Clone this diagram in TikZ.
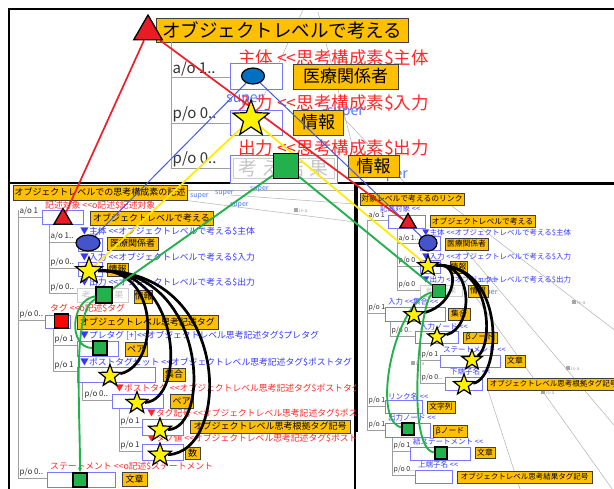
\documentclass[tikz,border=0pt]{standalone}
\usepackage{fontspec}
\setmainfont{Noto Sans CJK JP}
\usetikzlibrary{shapes.geometric,arrows.meta}
\pgfdeclarelayer{back}\pgfdeclarelayer{mid}\pgfsetlayers{back,mid,main}
\definecolor{org}{RGB}{255,192,0}
\definecolor{txtred}{RGB}{255,40,40}
\definecolor{txtblue}{RGB}{55,55,255}
\definecolor{suplbl}{RGB}{80,120,255}
\definecolor{bbord}{RGB}{120,120,255}
\definecolor{ellA}{RGB}{0,112,192}
\definecolor{ellB}{RGB}{70,84,204}
\definecolor{grn}{RGB}{34,177,76}
\definecolor{ylw}{RGB}{255,242,0}
\definecolor{trired}{RGB}{232,28,36}
\definecolor{lred}{RGB}{240,30,40}
\definecolor{lblu}{RGB}{70,90,220}
\definecolor{lylw}{RGB}{255,235,0}
\newcounter{nid}
\newcommand\dlt{<\kern0pt<}
\newcommand\mkOB[6]{\stepcounter{nid}\node[obox,font=\fontsize{#5}{#5}\selectfont,minimum width={(#3)-(#1)},minimum height={(#4)-(#2)}] (ob\arabic{nid}) at ({((#1)+(#3))/2},{((#2)+(#4))/2}) {#6};}
\newcommand\mkGB[6]{\stepcounter{nid}\node[draw=gray!40,fill=white,text=gray!45,inner sep=0pt,font=\fontsize{#5}{#5}\selectfont,minimum width={(#3)-(#1)},minimum height={(#4)-(#2)}] (gb\arabic{nid}) at ({((#1)+(#3))/2},{((#2)+(#4))/2}) {#6};}
\newcommand\mkTX[5]{\stepcounter{nid}\node[anchor=west,inner sep=0pt,text=#1,font=\fontsize{#4}{#4}\selectfont] (tx\arabic{nid}) at (#2,#3) {#5};}
\newcommand\mkTE[5]{\stepcounter{nid}\node[anchor=east,inner sep=0pt,text=#1,font=\fontsize{#4}{#4}\selectfont] (te\arabic{nid}) at (#2,#3) {#5};}
\newcommand\mkTL[4]{\stepcounter{nid}\node[anchor=south west,inner sep=0.5pt,text=black!80,font=\fontsize{#3}{#3}\selectfont] (tl\arabic{nid}) at (#1,#2) {#4};}
\newcommand\mkIS[2]{\stepcounter{nid}\fill[gray!70] ({#1-2},{#2-2}) rectangle ({#1+2},{#2+2});\node[anchor=west,inner sep=0pt,text=gray!70,font=\fontsize{5}{5}\selectfont] (is\arabic{nid}) at ({#1+3},{#2+1}) {is-a};}
\begin{document}
\begin{tikzpicture}[x=1pt,y=-1pt,
 obox/.style={draw=black!75,fill=org,inner sep=0pt,line width=0.6pt},
 bbox/.style={draw=bbord,line width=0.8pt,fill=white},
 tline/.style={draw=gray!75,line width=0.7pt},
 frm/.style={draw=black,line width=1.6pt},
 glink/.style={draw=gray!60,line width=0.5pt},
 tri/.style={regular polygon,regular polygon sides=3,fill=trired,draw=black,line width=1.3pt,inner sep=0pt},
 ell/.style={ellipse,draw=black,line width=1.2pt,inner sep=0pt},
 starS/.style={star,star points=5,star point ratio=2.4,fill=ylw,draw=black,line width=1.2pt,inner sep=0pt},
 sq/.style={rectangle,draw=black,line width=1.3pt,inner sep=0pt},
 lnred/.style={draw=lred,line width=1.7pt},
 lnblu/.style={draw=lblu,line width=1pt},
 lnylw/.style={draw=lylw,line width=1.7pt},
 lngrn/.style={draw=grn,line width=1.9pt},
 lnblk/.style={draw=black,line width=2.7pt}]
\useasboundingbox (0,0) rectangle (614,488);
\begin{pgfonlayer}{back}
\fill[white] (0,0) rectangle (614,488);
% gray links
\draw[glink] (303,10) -- (262,100);
\draw[glink] (318,12) -- (362,183);
\draw[glink] (336,110) -- (405,183);
\draw[glink] (185,190) -- (355,190);
\draw[glink] (183,200) -- (355,222);
\draw[glink] (230,195) -- (355,204);
\draw[glink] (448,203) -- (625,338);
\draw[glink] (461,245) -- (625,438);
\draw[glink] (453,265) -- (620,500);
\draw[glink] (488,390) -- (522,495);
\mkIS{296}{210}
\mkIS{574}{302}
\mkIS{568}{368}
\mkIS{543}{392}
\mkIS{413}{363}
\mkTX{suplbl}{190}{196}{7}{super}
\mkTX{suplbl}{215}{193}{7}{super}
\mkTX{suplbl}{250}{189}{7}{super}
\mkTX{suplbl}{230}{205}{7}{super}
% frames
\draw[frm] (9,9) rectangle (625,183);
\draw[frm] (9,183) -- (9,495);
\draw[frm] (355,183) -- (355,495);
\draw[frm] (357,184) -- (625,184);
\draw[frm] (357,184) -- (357,432);
% ===== top panel =====
\mkOB{156}{18}{408}{42}{18.5}{オブジェクトレベルで考える}
\draw[tline] (171,42) -- (171,168);
\draw[tline] (171,77) -- (230,77);
\draw[tline] (171,123) -- (230,123);
\draw[tline] (171,168) -- (230,168);
\mkTL{172}{77}{15}{a/o 1..}
\mkTL{172}{123}{15}{p/o 0..}
\mkTL{172}{168}{15}{p/o 0..}
\mkTX{txtred}{238}{58}{17.5}{主体 \dlt 思考構成素\$主体}
\mkTX{txtred}{238}{103}{17.5}{入力 \dlt 思考構成素\$入力}
\mkTX{txtred}{238}{148}{17.5}{出力 \dlt 思考構成素\$出力}
\mkTX{suplbl}{226}{100}{14}{super}
\mkTE{suplbl}{364}{113}{14}{super}
\mkTE{suplbl}{408}{176}{14}{super}
\draw[bbox] (230,63) rectangle (282,89);
\draw[bbox] (230,110) rectangle (282,135);
\draw[bbox] (230,155) rectangle (337,183);
\mkGB{233}{158}{334}{178}{19}{考\hspace{5pt}え\hspace{5pt}結\hspace{5pt}果}
\mkOB{293}{64}{398}{89}{17}{医療関係者}
\mkOB{293}{110}{343}{135}{17}{情報}
\mkOB{348}{155}{399}{177}{17}{情報}
% ===== left panel =====
\begin{scope}
\clip (9,183) rectangle (355,492);
\mkOB{13}{185}{187}{200}{9}{オブジェクトレベルでの思考構成素の記述}
\draw[tline] (18,210) -- (18,478);
\draw[tline] (18,217) -- (42,217);
\draw[tline] (18,320) -- (45,320);
\draw[tline] (18,478) -- (47,478);
\draw[tline] (49,224) -- (49,293);
\draw[tline] (49,242) -- (78,242);
\draw[tline] (49,268) -- (78,268);
\draw[tline] (49,293) -- (77,293);
\draw[tline] (53,328) -- (53,371);
\draw[tline] (53,345) -- (77,345);
\draw[tline] (53,371) -- (77,371);
\draw[tline] (82,382) -- (82,400) -- (112,400);
\draw[tline] (119,408) -- (119,451);
\draw[tline] (119,427) -- (142,427);
\draw[tline] (119,451) -- (142,451);
\mkTL{19}{216}{8}{a/o 1}
\mkTL{50}{241}{8}{a/o 1..}
\mkTL{50}{267}{8}{p/o 0..}
\mkTL{50}{292}{8}{p/o 0..}
\mkTL{19}{319}{8}{p/o 0..}
\mkTL{54}{344}{8}{p/o 1}
\mkTL{54}{370}{8}{p/o 1}
\mkTL{84}{399}{8}{p/o 0..}
\mkTL{120}{426}{8}{p/o 1}
\mkTL{120}{450}{8}{p/o 1}
\mkTL{19}{477}{8}{p/o 0..}
\mkTX{txtred}{45}{205}{8.8}{記述対象 \dlt o記述\$記述対象}
\mkTX{txtblue}{80}{231}{8.8}{▼主体 \dlt オブジェクトレベルで考える\$主体}
\mkTX{txtblue}{80}{257}{8.8}{▼入力 \dlt オブジェクトレベルで考える\$入力}
\mkTX{txtblue}{80}{282}{8.8}{▼出力 \dlt オブジェクトレベルで考える\$出力}
\mkTX{txtred}{50}{308}{8.8}{タグ \dlt o記述\$タグ}
\mkTX{txtblue}{80}{335}{8.8}{▼プレタグ [+]\dlt オブジェクトレベル思考記述タグ\$プレタグ}
\mkTX{txtblue}{80}{362}{8.8}{▼ポストタグセット \dlt オブジェクトレベル思考記述タグ\$ポストタグ}
\mkTX{txtred}{115}{388}{8.8}{▼ポストタグ \dlt オブジェクトレベル思考記述タグ\$ポストタグ}
\mkTX{txtred}{147}{413}{8.8}{▼タグ記号 \dlt オブジェクトレベル思考記述タグ\$ポストタグ}
\mkTX{txtred}{147}{438}{8.8}{▼タグ値 \dlt オブジェクトレベル思考記述タグ\$ポストタグ}
\mkTX{txtred}{50}{466}{8.8}{ステートメント \dlt o記述\$ステートメント}
\draw[bbox] (42,210) rectangle (83,224);
\draw[bbox] (78,238) rectangle (102,251);
\draw[bbox] (78,262) rectangle (102,276);
\mkGB{77}{288}{128}{302}{9}{考\hspace{2pt}え\hspace{2pt}結\hspace{2pt}果}
\draw[bbox] (45,315) rectangle (70,328);
\draw[bbox] (77,341) rectangle (118,356);
\draw[bbox] (77,367) rectangle (155,382);
\draw[bbox] (112,394) rectangle (163,408);
\draw[bbox] (142,419) rectangle (183,435);
\draw[bbox] (142,444) rectangle (183,460);
\draw[bbox] (47,472) rectangle (115,487);
\mkOB{90}{211}{213}{225}{9}{オブジェクトレベルで考える}
\mkOB{107}{237}{158}{250}{9}{医療関係者}
\mkOB{107}{263}{128}{276}{9}{情報}
\mkOB{135}{290}{152}{303}{9}{情報}
\mkOB{77}{315}{218}{329}{9}{オブジェクトレベル思考記述タグ}
\mkOB{125}{342}{147}{356}{9}{ペア}
\mkOB{163}{368}{185}{381}{9}{集合}
\mkOB{170}{394}{193}{408}{9}{ペア}
\mkOB{190}{420}{350}{433}{9}{オブジェクトレベル思考根拠タグ記号}
\mkOB{185}{447}{200}{459}{9}{数}
\mkOB{122}{472}{147}{486}{9}{文章}
\end{scope}
% ===== right panel =====
\mkOB{360}{193}{464}{205}{7.8}{対象レベルで考えるのリンク}
\draw[tline] (367,220) -- (367,430);
\draw[tline] (367,220) -- (388,220);
\draw[tline] (367,313) -- (385,313);
\draw[tline] (367,406) -- (385,406);
\draw[tline] (367,430) -- (385,430);
\draw[tline] (397,228) -- (397,290);
\draw[tline] (397,243) -- (420,243);
\draw[tline] (397,266) -- (420,266);
\draw[tline] (397,290) -- (420,290);
\draw[tline] (390,321) -- (390,336) -- (415,336);
\draw[tline] (420,343) -- (420,383);
\draw[tline] (420,360) -- (440,360);
\draw[tline] (420,383) -- (445,383);
\draw[tline] (392,437) -- (392,475);
\draw[tline] (392,451) -- (410,451);
\draw[tline] (392,475) -- (415,475);
\mkTL{368}{219}{7}{a/o 1}
\mkTL{398}{242}{7}{a/o 1..}
\mkTL{398}{265}{7}{p/o 0}
\mkTL{398}{289}{7}{p/o 0}
\mkTL{368}{312}{7}{p/o 1}
\mkTL{391}{335}{7}{p/o 0..}
\mkTL{421}{359}{7}{p/o 1}
\mkTL{421}{382}{7}{p/o 0..}
\mkTL{368}{405}{7}{p/o 1}
\mkTL{368}{429}{7}{p/o 1}
\mkTL{393}{450}{7}{p/o 1}
\mkTL{393}{474}{7}{p/o 0..}
\mkTX{txtblue}{380}{209}{7.5}{記述対象 \dlt}
\mkTX{txtblue}{422}{233}{7.5}{▼主体 \dlt オブジェクトレベルで考える\$主体}
\mkTX{txtblue}{422}{257}{7.5}{▼入力 \dlt オブジェクトレベルで考える\$入力}
\mkTX{txtblue}{422}{280}{7.5}{▼出力 \dlt オブジェクトレベルで考える\$出力}
\mkTX{suplbl}{478}{281}{7.5}{super}
\mkTE{suplbl}{498}{293}{7.5}{super}
\mkTX{txtblue}{388}{302}{7.5}{入力 \dlt 集合 \dlt}
\mkTX{txtblue}{420}{327}{7.5}{入力ノード \dlt}
\mkTX{txtblue}{443}{350}{7.5}{ステートメント \dlt}
\mkTX{txtblue}{450}{372}{7.5}{下端子名 \dlt}
\mkTX{txtblue}{388}{397}{7.5}{リンク名 \dlt}
\mkTX{txtblue}{388}{418}{7.5}{出力ノード \dlt}
\mkTX{txtblue}{413}{442}{7.5}{結ステートメント \dlt}
\mkTX{txtblue}{418}{465}{7.5}{上端子名 \dlt}
\draw[bbox] (388,215) rectangle (425,228);
\draw[bbox] (420,236) rectangle (440,250);
\draw[bbox] (420,260) rectangle (440,273);
\mkGB{420}{285}{462}{296}{7}{考\hspace{1pt}え\hspace{1pt}結\hspace{1pt}果}
\draw[bbox] (385,307) rectangle (445,321);
\draw[bbox] (415,331) rectangle (458,343);
\draw[bbox] (440,355) rectangle (500,367);
\draw[bbox] (445,377) rectangle (482,390);
\draw[bbox] (385,400) rectangle (422,413);
\draw[bbox] (385,423) rectangle (430,437);
\draw[bbox] (410,447) rectangle (470,460);
\draw[bbox] (415,470) rectangle (452,483);
\mkOB{430}{215}{535}{227}{7.8}{オブジェクトレベルで考える}
\mkOB{445}{238}{488}{250}{7.8}{医療関係者}
\mkOB{450}{261}{467}{273}{7.8}{情報}
\mkOB{468}{285}{488}{297}{7.8}{情報}
\mkOB{448}{308}{470}{320}{7.8}{集合}
\mkOB{463}{332}{497}{343}{7.8}{βノード}
\mkOB{505}{355}{525}{367}{7.8}{文章}
\mkOB{487}{378}{620}{390}{7.5}{オブジェクトレベル思考根拠タグ記号}
\mkOB{427}{401}{455}{413}{7.8}{文字列}
\mkOB{433}{425}{467}{437}{7.8}{βノード}
\mkOB{475}{447}{495}{458}{7.8}{文章}
\mkOB{457}{471}{592}{483}{7.5}{オブジェクトレベル思考結果タグ記号}
\end{pgfonlayer}
% ===== shapes =====
\node[tri,minimum size=33pt] (tTri) at (148,31.5) {};
\node[ell,fill=ellA,minimum width=23pt,minimum height=16pt] (tEll) at (253,76) {};
\node[starS,minimum size=38pt] (tStar) at (251,119) {};
\node[sq,fill=grn,minimum size=25pt] (tSq) at (286,166) {};
\node[tri,minimum size=21pt] (lTri) at (63,219) {};
\node[ell,fill=ellB,minimum width=24pt,minimum height=16pt] (lEll) at (88,243) {};
\node[starS,minimum size=28pt] (lStar) at (89,271) {};
\node[sq,fill=grn,minimum size=16pt] (lSq) at (104,295) {};
\node[sq,fill=red,minimum size=14pt] (lRSq) at (61.5,321) {};
\node[sq,fill=grn,minimum size=14pt] (lSq2) at (100,348) {};
\node[starS,minimum size=23pt] (lStar2) at (110,376) {};
\node[starS,minimum size=23pt] (lStar3) at (137,403) {};
\node[starS,minimum size=24pt] (lStar4) at (160,430) {};
\node[starS,minimum size=24pt] (lStar5) at (160,455) {};
\node[sq,fill=grn,minimum size=14pt] (lSq3) at (80,480) {};
\node[tri,minimum size=19pt] (rTri) at (408,223) {};
\node[ell,fill=ellB,minimum width=18pt,minimum height=16pt] (rEll) at (428,243) {};
\node[starS,minimum size=22pt] (rStar) at (428,266) {};
\node[sq,fill=grn,minimum size=13pt] (rSq) at (439,291) {};
\node[starS,minimum size=21pt] (rStar2) at (414,315) {};
\node[starS,minimum size=20pt] (rStar3) at (437,337) {};
\node[starS,minimum size=21pt] (rStar4) at (472,360) {};
\node[starS,minimum size=22pt] (rStar5) at (464,385) {};
\node[sq,fill=grn,minimum size=12pt] (rSq2) at (408,429) {};
\node[sq,fill=grn,minimum size=12pt] (rSq3) at (441,453) {};
% ===== connectors =====
\begin{pgfonlayer}{mid}
\draw[lnblk] (lStar) .. controls (160,268) and (160,365) .. (lStar2);
\draw[lnblk] (lStar) .. controls (182,268) and (187,400) .. (lStar3);
\draw[lnblk] (lStar) .. controls (207,268) and (212,428) .. (lStar4);
\draw[lnblk] (lStar) .. controls (232,268) and (232,452) .. (lStar5);
\draw[lnblk] (rStar) .. controls (462,262) and (457,305) .. (rStar2);
\draw[lnblk] (rStar) .. controls (474,262) and (474,328) .. (rStar3);
\draw[lnblk] (rStar) .. controls (492,262) and (494,345) .. (rStar4);
\draw[lnblk] (rStar) .. controls (507,262) and (502,378) .. (rStar5);
\draw[lngrn] (lSq) .. controls (70,300) and (68,348) .. (lSq2);
\draw[lngrn,-{Stealth[length=5pt,width=4pt]}] (lSq) .. controls (72,310) and (80,400) .. (lSq3);
\draw[lngrn] (rSq) .. controls (395,300) and (370,420) .. (rSq2);
\draw[lngrn] (rSq) .. controls (420,300) and (405,450) .. (rSq3);
\draw[lnblu] (tEll) -- (lEll);
\draw[lnblu] (tEll) -- (rEll);
\draw[lnylw] (tStar) -- (lStar);
\draw[lnylw] (tStar) -- (rStar);
\draw[lngrn] (tSq) -- (lSq);
\draw[lngrn] (tSq) -- (rSq);
\draw[lnred] (tTri) -- (lTri);
\draw[lnred] (tTri) -- (rTri);
\end{pgfonlayer}
\end{tikzpicture}
\end{document}
